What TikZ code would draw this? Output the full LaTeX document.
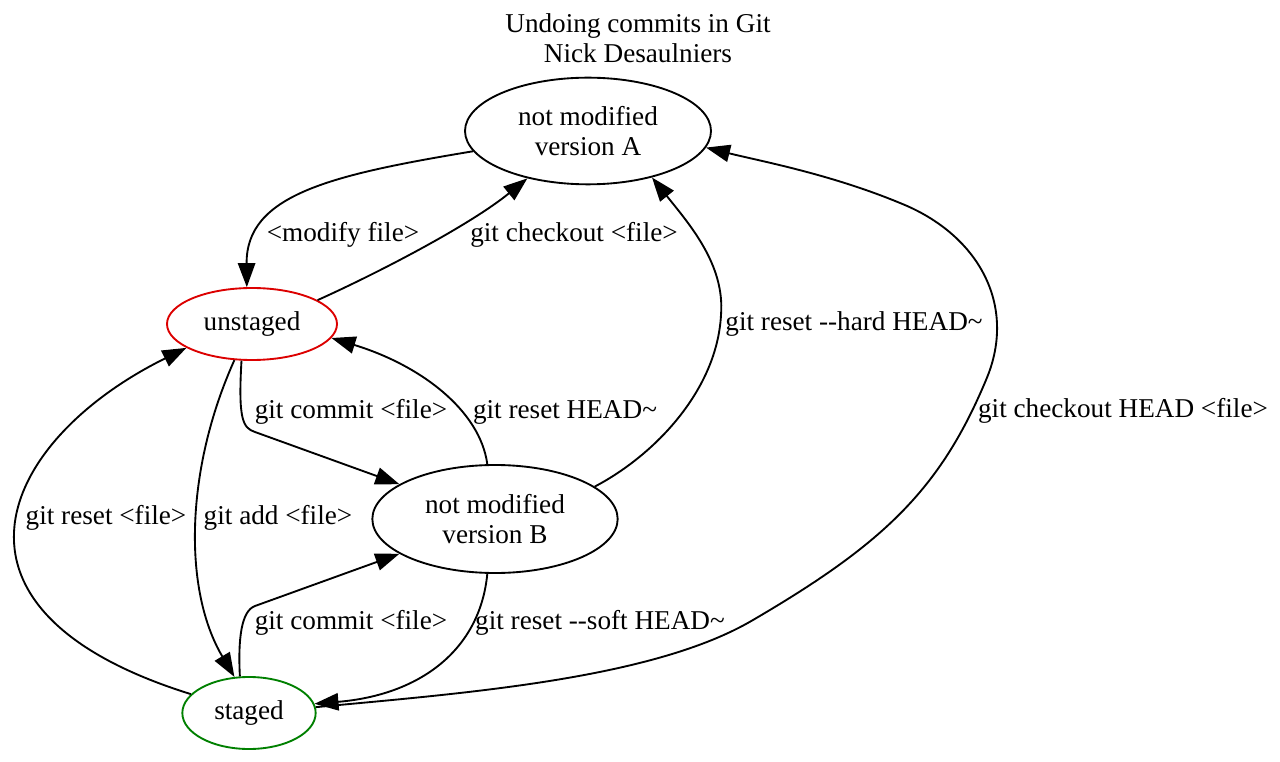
\documentclass[tikz,border=0pt]{standalone}
\usepackage{fontspec}
\setmainfont{Liberation Serif}
\usetikzlibrary{arrows.meta,shapes.geometric}
\definecolor{ured}{RGB}{220,0,0}
\definecolor{sgreen}{RGB}{0,128,0}
\newcommand{\dd}{\hbox{-}\hbox{-}}
\begin{document}
\begin{tikzpicture}[x=0.75pt,y=-0.75pt,
  txt/.style={font=\fontsize{20.4}{22.5}\selectfont, align=center},
  state/.style={txt, ellipse, draw, line width=1.4pt, inner sep=0pt},
  lbl/.style={txt, inner sep=0pt},
  edge/.style={-{Triangle[length=18pt,width=13pt]}, line width=1.4pt}]
\useasboundingbox (0,0) rectangle (1280,762);
\fill[white] (0,0) rectangle (1280,762);

\node[txt] (title) at (638,38) {Undoing commits in Git\\Nick Desaulniers};

\node[state, minimum width=184.5pt, minimum height=80pt] (A) at (588,131) {not modified\\version A};
\node[state, draw=ured, minimum width=127.5pt, minimum height=54pt] (U) at (252,324) {unstaged};
\node[state, minimum width=184pt, minimum height=81pt] (B) at (495,519) {not modified\\version B};
\node[state, draw=sgreen, minimum width=100pt, minimum height=54pt] (S) at (249,713) {staged};

\draw[edge] (A.190) .. controls (330,175) and (246,195) .. (U.98);
\draw[edge] (U.20) .. controls (380,272) and (470,225) .. (A.218);
\draw[edge] (B.18) .. controls (655,455) and (717,390) .. (721,315)
  .. controls (725,265) and (690,225) .. (A.324);
\draw[edge] (S.5) .. controls (466,693) and (653,679) .. (753,620)
  .. controls (883,544) and (940,490) .. (986,380)
  .. controls (1018,305) and (978,234) .. (900,203)
  .. controls (830,174) and (760,161) .. (A.352);
\draw[edge] (U.254) .. controls (238,420) and (243,428) .. (255,432) -- (B.160);
\draw[edge] (B.98) .. controls (480,410) and (420,365) .. (U.350);
\draw[edge] (U.244) .. controls (185,470) and (183,590) .. (S.112);
\draw[edge] (S.162) .. controls (-80,610) and (0,440) .. (U.200);
\draw[edge] (S.104) .. controls (238,640) and (241,611) .. (255,606) -- (B.200);
\draw[edge] (B.262) .. controls (480,650) and (420,695) .. (S.8);

\node[lbl] (l1) at (343,235) {<modify file>};
\node[lbl] (l2) at (574,235) {git checkout <file>};
\node[lbl] (l3) at (854,324) {git reset \dd hard HEAD\textasciitilde};
\node[lbl] (l4) at (1123,411) {git checkout HEAD <file>};
\node[lbl] (l5) at (351,412) {git commit <file>};
\node[lbl] (l6) at (565,412) {git reset HEAD\textasciitilde};
\node[lbl] (l7) at (106,518) {git reset <file>};
\node[lbl] (l8) at (278,518) {git add <file>};
\node[lbl] (l9) at (351,623) {git commit <file>};
\node[lbl] (l10) at (600,623) {git reset \dd soft HEAD\textasciitilde};
\end{tikzpicture}
\end{document}
